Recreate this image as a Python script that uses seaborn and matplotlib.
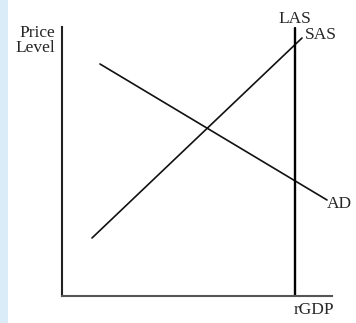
import matplotlib
matplotlib.use("Agg")
import matplotlib.pyplot as plt
import seaborn as sns
import pandas as pd
from matplotlib.patches import Rectangle

# Data (abstract units: origin at axes corner)
ad_x = [38, 265]
ad_y = [232, 96]
sas_x = [30, 240]
sas_y = [58, 258]
las_x = [233, 233]
las_y = [0, 268]
labels = {"LAS": "LAS", "SAS": "SAS", "AD": "AD"}
x_label = "rGDP"
y_label = "Price\nLevel"

sns.set_theme(style="white")
plt.rcParams["font.family"] = ["Liberation Serif", "DejaVu Serif"]

fig = plt.figure(figsize=(3.56, 3.23), dpi=100)
fig.patches.append(Rectangle((0, 0), 8 / 356, 1, transform=fig.transFigure,
                             facecolor="#d9ecf7", edgecolor="none", zorder=0))
ax = fig.add_axes([62 / 356, 27 / 323, 270 / 356, 269 / 323])
ax.set_xlim(0, 270)
ax.set_ylim(0, 269)

df_ad = pd.DataFrame({"x": ad_x, "y": ad_y})
df_sas = pd.DataFrame({"x": sas_x, "y": sas_y})
df_las = pd.DataFrame({"x": las_x, "y": las_y})
sns.lineplot(data=df_ad, x="x", y="y", ax=ax, color="#111111", linewidth=1.2,
             sort=False, estimator=None)
sns.lineplot(data=df_sas, x="x", y="y", ax=ax, color="#111111", linewidth=1.2,
             sort=False, estimator=None)
sns.lineplot(data=df_las, x="x", y="y", ax=ax, color="#000000", linewidth=1.7,
             sort=False, estimator=None)

for s in ["top", "right"]:
    ax.spines[s].set_visible(False)
ax.spines["left"].set_color("#222222")
ax.spines["left"].set_linewidth(1.5)
ax.spines["bottom"].set_color("#555555")
ax.spines["bottom"].set_linewidth(1.5)
ax.set_xticks([])
ax.set_yticks([])
ax.set_xlabel("")
ax.set_ylabel("")

fs = 12.5
ax.text(las_x[1], las_y[1] + 1, labels["LAS"], ha="center", va="bottom", fontsize=fs, clip_on=False)
ax.text(sas_x[1] + 3, sas_y[1] + 3, labels["SAS"], ha="left", va="center", fontsize=fs, clip_on=False)
ax.text(ad_x[1], ad_y[1] - 4, labels["AD"], ha="left", va="center", fontsize=fs, clip_on=False)
ax.text(252, -6, x_label, ha="center", va="top", fontsize=fs, clip_on=False)
fig.text(55 / 356, 1 - 25 / 323, y_label, ha="right", va="top", fontsize=fs, linespacing=0.9)

fig.savefig("out.png", dpi=100)
